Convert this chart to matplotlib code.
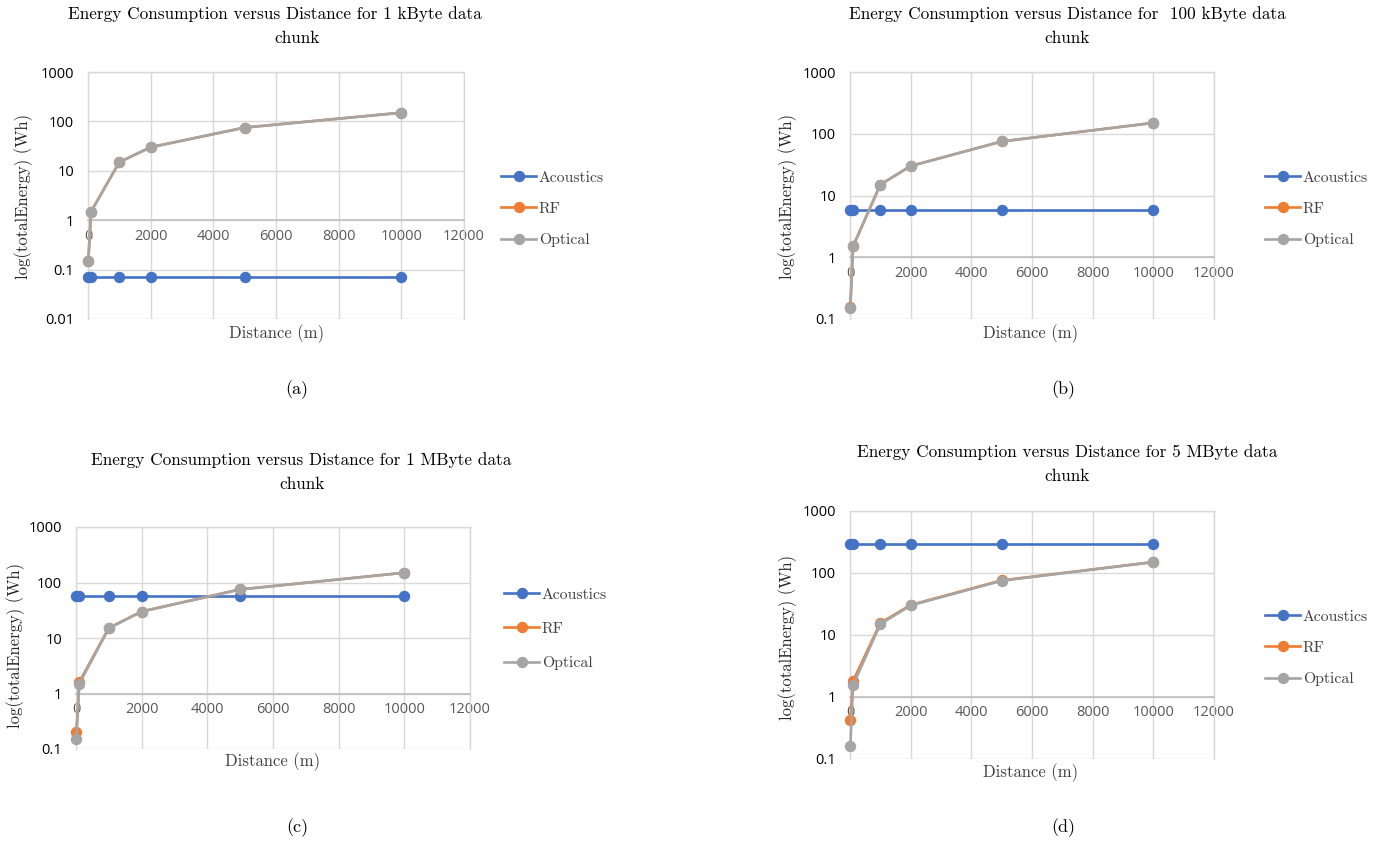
import matplotlib
matplotlib.use("Agg")
import matplotlib.pyplot as plt

# distances (m)
distance = [10, 100, 1000, 2000, 5000, 10000]

# total energy (Wh) per data chunk size
acoustic_1k = [0.072, 0.072, 0.072, 0.072, 0.072, 0.072]
rf_1k = [0.15, 1.5, 15, 30, 75, 150]
optical_1k = [0.15, 1.5, 15, 30, 75, 150]

acoustic_100k = [5.8, 5.8, 5.8, 5.8, 5.8, 5.8]
rf_100k = [0.155, 1.5, 15, 30, 75, 150]
optical_100k = [0.15, 1.5, 15, 30, 75, 150]

acoustic_1m = [58, 58, 58, 58, 58, 58]
rf_1m = [0.2, 1.6, 15.2, 30, 75, 150]
optical_1m = [0.15, 1.5, 15, 30, 75, 150]

acoustic_5m = [295, 295, 295, 295, 295, 295]
rf_5m = [0.43, 1.8, 15.6, 30.5, 76, 150]
optical_5m = [0.16, 1.55, 15, 30, 75, 150]

titles = [
    ("Energy Consumption versus Distance for 1 kByte data", "chunk"),
    ("Energy Consumption versus Distance for  100 kByte data", "chunk"),
    ("Energy Consumption versus Distance for 1 MByte data", "chunk"),
    ("Energy Consumption versus Distance for 5 MByte data", "chunk"),
]
captions = ["(a)", "(b)", "(c)", "(d)"]
series_names = ["Acoustics", "RF", "Optical"]

W, H = 1390, 844
SERIF = "cmr10"
TICKF = "Open Sans"
colors = ["#4472C4", "#ED7D31", "#A5A5A5"]


def box(l, t, r, b):
    return [l / W, 1 - b / H, (r - l) / W, (b - t) / H]


def fx(x):
    return x / W


def fy(y):
    return 1 - y / H


fig = plt.figure(figsize=(W / 100, H / 100), dpi=100)

panels = [
    dict(rect=(88, 72, 464, 319), ylo=0.01, data=(acoustic_1k, rf_1k, optical_1k),
         t1=(275, 14), t2=(297, 38), ylab=(24, 196), xlab=(277, 334),
         leg=(495, 209, 1.1), cap=(297, 390)),
    dict(rect=(850, 72, 1214, 319), ylo=0.1, data=(acoustic_100k, rf_100k, optical_100k),
         t1=(1067, 14), t2=(1067, 38), ylab=(788, 196), xlab=(1031, 334),
         leg=(1259, 209, 1.1), cap=(1063, 390)),
    dict(rect=(76, 527, 470, 749), ylo=0.1, data=(acoustic_1m, rf_1m, optical_1m),
         t1=(301, 460), t2=(302, 484), ylab=(16, 645), xlab=(273, 762),
         leg=(498, 629, 1.3), cap=(297, 828)),
    dict(rect=(850, 511, 1214, 759), ylo=0.1, data=(acoustic_5m, rf_5m, optical_5m),
         t1=(1067, 452), t2=(1067, 476), ylab=(788, 637), xlab=(1031, 773),
         leg=(1259, 648, 1.1), cap=(1063, 828)),
]

for i, p in enumerate(panels):
    ax = fig.add_axes(box(*p["rect"]))
    for vals, name, c in zip(p["data"], series_names, colors):
        ax.plot(distance, vals, color=c, lw=1.9, marker="o", ms=7.2,
                label=name, clip_on=False, zorder=3)
    ax.set_yscale("log")
    ax.set_xlim(0, 12000)
    ax.set_ylim(p["ylo"], 1000)
    ax.set_xticks(range(0, 12001, 2000))
    ticks = [0.01, 0.1, 1, 10, 100, 1000]
    ticks = [t for t in ticks if t >= p["ylo"]]
    ax.set_yticks(ticks)
    ax.set_yticklabels([("%g" % t) for t in ticks])
    ax.minorticks_off()
    ax.grid(True, color="#D9D9D9", lw=1)
    ax.set_axisbelow(True)
    for s in ["top", "right", "left"]:
        ax.spines[s].set_color("#D9D9D9")
        ax.spines[s].set_linewidth(1)
    ax.spines["bottom"].set_position(("data", 1))
    ax.spines["bottom"].set_color("#BFBFBF")
    ax.spines["bottom"].set_linewidth(1.2)
    ax.tick_params(length=0)
    ax.tick_params(axis="x", pad=6, labelsize=10.5, labelcolor="#595959")
    ax.tick_params(axis="y", pad=10, labelsize=10.5, labelcolor="black")
    for lab in ax.get_xticklabels() + ax.get_yticklabels():
        lab.set_fontfamily(TICKF)

    fig.text(fx(p["t1"][0]), fy(p["t1"][1]), titles[i][0], family=SERIF,
             fontsize=12.4, ha="center", va="center")
    fig.text(fx(p["t2"][0]), fy(p["t2"][1]), titles[i][1], family=SERIF,
             fontsize=12.4, ha="center", va="center")
    fig.text(fx(p["ylab"][0]), fy(p["ylab"][1]), "log(totalEnergy) (Wh)",
             family=SERIF, fontsize=12, rotation=90, ha="center", va="center",
             color="#262626")
    fig.text(fx(p["xlab"][0]), fy(p["xlab"][1]), "Distance (m)", family=SERIF,
             fontsize=12, ha="center", va="center", color="#404040")
    fig.text(fx(p["cap"][0]), fy(p["cap"][1]), captions[i], family=SERIF,
             fontsize=13, ha="center", va="center")

    lx, ly, sp = p["leg"]
    leg = ax.legend(loc="center left", bbox_to_anchor=(fx(lx), fy(ly)),
                    bbox_transform=fig.transFigure, frameon=False,
                    prop={"family": SERIF, "size": 11.3}, labelspacing=sp,
                    handlelength=2.2, handletextpad=0.2, borderaxespad=0)
    for t in leg.get_texts():
        t.set_color("#404040")

fig.savefig("out.png", dpi=100)
